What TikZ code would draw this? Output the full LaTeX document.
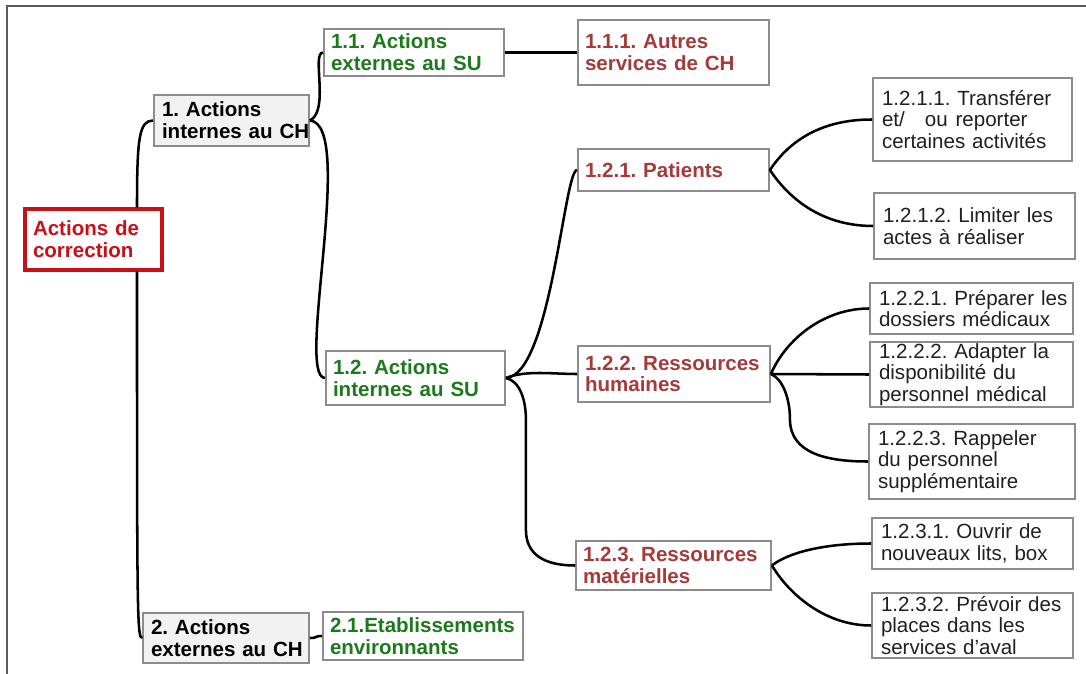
\documentclass[tikz,border=0pt]{standalone}
\usepackage{fontspec}
\setmainfont{Liberation Sans}
\usetikzlibrary{calc}

\definecolor{rootred}{RGB}{200,16,24}
\definecolor{greenlvl}{RGB}{28,122,28}
\definecolor{brownlvl}{RGB}{165,58,58}
\definecolor{leaftext}{RGB}{32,32,32}
\definecolor{boxline}{RGB}{140,140,140}
\definecolor{boxfill}{RGB}{242,242,242}
\definecolor{frameline}{RGB}{90,90,90}

\newcommand{\mapfont}{\fontsize{15.4}{16.3}\selectfont\frenchspacing}

\tikzset{every picture/.style={line width=0.75pt}}
\tikzset{
	mapbox/.style={draw=boxline, line width=1.4pt, fill=white, align=left, inner ysep=0pt, inner xsep=5.25pt, font=\mapfont,
		execute at begin node={\rightskip=0pt plus 1fil minus 20pt}},
	boxsize/.style 2 args={text width=#1, minimum height=#2},
	rootbox/.style={mapbox, draw=rootred, line width=2.6pt, text=rootred, inner xsep=6pt, font=\mapfont\bfseries},
	lvlone/.style={mapbox, fill=boxfill, text=black, inner xsep=6pt, font=\mapfont\bfseries},
	lvltwo/.style={mapbox, text=greenlvl, font=\mapfont\bfseries},
	lvlthree/.style={mapbox, text=brownlvl, font=\mapfont\bfseries},
	leaf/.style={mapbox, text=leaftext, inner xsep=6.75pt},
	branch/.style={draw=black, line width=1.9pt},
	frame/.style={draw=frameline, line width=1.3pt}
}

\begin{document}
\begin{tikzpicture}[x=0.75pt,y=0.75pt,yscale=-1,xscale=1]
	\useasboundingbox (0,0) rectangle (1086,674);

	%Straight Lines: page frame
	\draw [frame] (1086,6) -- (7,6) -- (7,674) ;

	% Text Node
	\draw (93.5,239.5) node [rootbox, boxsize={90.75pt}{45.75pt}] (root) {Actions de\\correction};
	% Text Node
	\draw (231.5,120.5) node [lvlone, boxsize={104.25pt}{38.25pt}] (n1) {1. Actions\\internes au CH};
	% Text Node
	\draw (226,638) node [lvlone, boxsize={112.5pt}{37.5pt}] (n2) {2. Actions\\externes au CH};
	% Text Node
	\draw (414,52.5) node [lvltwo, boxsize={124.5pt}{35.25pt}] (n11) {1.1. Actions\\externes au SU};
	% Text Node
	\draw (415.5,378) node [lvltwo, boxsize={123.75pt}{40.5pt}] (n12) {1.2. Actions\\internes au SU};
	% Text Node
	\draw (423,636) node [lvltwo, boxsize={139.5pt}{36pt}] (n21) {2.1.Etablissements\\environnants};
	% Text Node
	\draw (673.5,52.5) node [lvlthree, boxsize={132.75pt}{48.75pt}] (n111) {1.1.1. Autres\\services de CH};
	% Text Node
	\draw (673.5,170) node [lvlthree, boxsize={132.75pt}{31.5pt}] (n121) {1.2.1. Patients};
	% Text Node
	\draw (674,374) node [lvlthree, boxsize={133.5pt}{42pt}] (n122) {1.2.2. Ressources\\humaines};
	% Text Node
	\draw (673.5,565.5) node [lvlthree, boxsize={135.75pt}{36.75pt}] (n123) {1.2.3. Ressources\\matérielles};
	% Text Node
	\draw (972.5,119.5) node [leaf, boxsize={135.75pt}{62.25pt}] (n1211) {1.2.1.1. Transférer\\et/\hspace{15pt}ou\hspace{6pt}reporter\\certaines activités};
	% Text Node
	\draw (974.5,226) node [leaf, boxsize={137.25pt}{49.5pt}] (n1212) {1.2.1.2. Limiter les\\actes à réaliser};
	% Text Node
	\draw (971.5,308.5) node [leaf, boxsize={138.75pt}{38.25pt}] (n1221) {1.2.2.1. Préparer les\\dossiers médicaux};
	% Text Node
	\draw (971.5,374.5) node [leaf, boxsize={138.75pt}{48.75pt}] (n1222) {1.2.2.2. Adapter la\\disponibilité du\\personnel médical};
	% Text Node
	\draw (972,461.5) node [leaf, boxsize={141pt}{56.25pt}] (n1223) {1.2.2.3. Rappeler\\du personnel\\supplémentaire};
	% Text Node
	\draw (972.5,543.5) node [leaf, boxsize={137.25pt}{38.25pt}] (n1231) {1.2.3.1. Ouvrir de\\nouveaux lits, box};
	% Text Node
	\draw (972.5,625.5) node [leaf, boxsize={137.25pt}{48.75pt}] (n1232) {1.2.3.2. Prévoir des\\places dans les\\services d’aval};

	%Curve Lines: root to level one
	\draw [branch] ($(root.north)+(43.5,0)$) .. controls +(0,-69) and +(-14,0) .. (n1.west) ;
	\draw [branch] ($(root.south)+(43.5,0)$) .. controls +(0,340) and +(-5,0) .. (n2.west) ;
	%Curve Lines: level one to level two
	\draw [branch] (n1.east) .. controls +(20,-10) and +(-12,0) .. (n11.west) ;
	\draw [branch] (n1.east) .. controls +(46,4) and +(-30,0) .. (n12.west) ;
	\draw [branch] (n2.east) .. controls +(8,0) and +(-8,0) .. (n21.west) ;
	%Curve Lines: level two to level three
	\draw [branch] (n11.east) -- (n111.west) ;
	\draw [branch] (n12.east) .. controls +(45,-3) and +(-13,0) .. (n121.west) ;
	\draw [branch] (n12.east) .. controls +(20,-8) and +(-25,0) .. (n122.west) ;
	\draw [branch] (n12.east) .. controls +(14,3) and +(0,-20) .. ++(20,42) -- ++(0,110) .. controls +(0,25) and +(-30,0) .. (n123.west) ;
	%Curve Lines: level three to leaves
	\draw [branch] (n121.east) .. controls +(20,-30) and +(-50,0) .. (n1211.west) ;
	\draw [branch] (n121.east) .. controls +(20,30) and +(-50,0) .. (n1212.west) ;
	\draw [branch] (n122.east) .. controls +(15,-35) and +(-45,0) .. (n1221.west) ;
	\draw [branch] (n122.east) -- (n1222.west) ;
	\draw [branch] (n122.east) .. controls +(12,5) and +(0,-20) .. ++(19,45) .. controls +(0,35) and +(-40,0) .. (n1223.west) ;
	\draw [branch] (n123.east) .. controls +(15,-12) and +(-50,0) .. (n1231.west) ;
	\draw [branch] (n123.east) .. controls +(18,30) and +(-45,0) .. (n1232.west) ;

\end{tikzpicture}
\end{document}
